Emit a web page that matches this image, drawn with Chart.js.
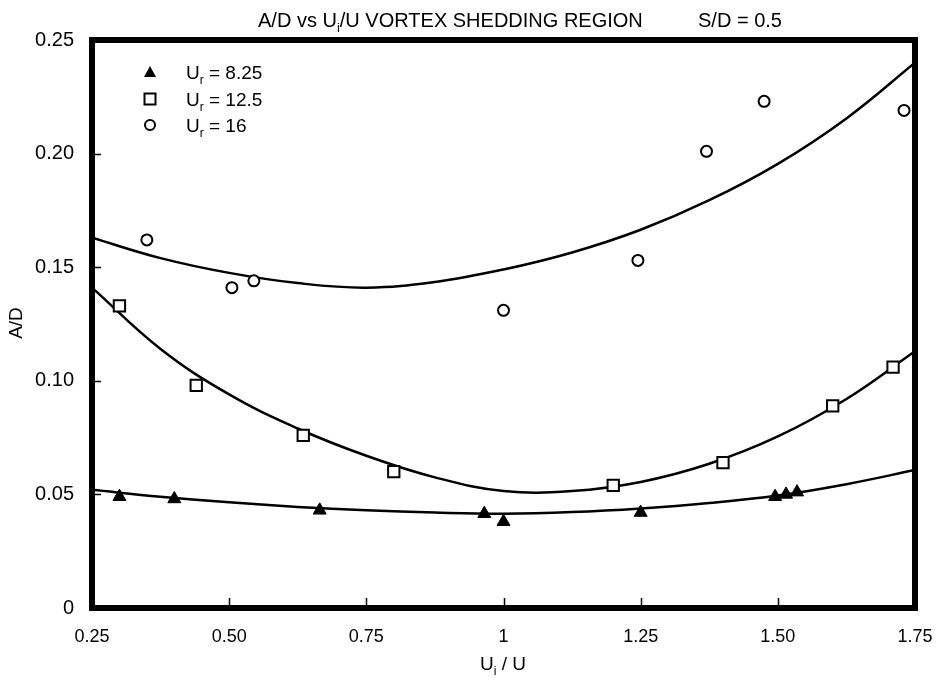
<!DOCTYPE html>
<html>
<head>
<meta charset="utf-8">
<script src="https://cdn.jsdelivr.net/npm/chart.js@4.4.0/dist/chart.umd.min.js"></script>
<style>
  html, body { margin: 0; padding: 0; background: #fff; }
  #wrap { width: 948px; height: 687px; }
</style>
</head>
<body>
<div id="wrap"><canvas id="vortexChart"></canvas></div>
<script>
const triX = [0.30, 0.40, 0.665, 0.965, 1.00, 1.25, 1.495, 1.515, 1.535];
const triY = [0.049, 0.048, 0.043, 0.0415, 0.038, 0.042, 0.049, 0.050, 0.051];

const sqX = [0.30, 0.44, 0.635, 0.80, 1.20, 1.40, 1.60, 1.71];
const sqY = [0.133, 0.098, 0.076, 0.060, 0.054, 0.064, 0.089, 0.106];

const circX = [0.35, 0.505, 0.545, 1.00, 1.245, 1.37, 1.475, 1.73];
const circY = [0.162, 0.141, 0.144, 0.131, 0.153, 0.201, 0.223, 0.219];

// fitted curves
const fitX = [0.25, 0.375, 0.5, 0.625, 0.75, 0.875, 1.0, 1.125, 1.25, 1.375, 1.5, 1.625, 1.75];
const fitTriY = [0.052, 0.049, 0.0465, 0.0445, 0.043, 0.042, 0.0415, 0.0422, 0.0438, 0.0462, 0.0495, 0.0545, 0.0607];
const fitSqY = [0.141, 0.114, 0.094, 0.079, 0.067, 0.0575, 0.0515, 0.0515, 0.0555, 0.0635, 0.0755, 0.092, 0.113];
const fitCircY = [0.163, 0.154, 0.1475, 0.143, 0.141, 0.1435, 0.149, 0.1565, 0.1665, 0.1795, 0.1955, 0.2155, 0.240];

const legendValues = ['8.25', '12.5', '16'];
const xTickLabels = { 0.25: '0.25', 0.5: '0.50', 0.75: '0.75', 1: '1', 1.25: '1.25', 1.5: '1.50', 1.75: '1.75' };
const yTickLabels = { 0: '0', 0.05: '0.05', 0.1: '0.10', 0.15: '0.15', 0.2: '0.20', 0.25: '0.25' };

const FONT = '"Liberation Sans", Arial, Helvetica, sans-serif';

function pairs(xs, ys) {
    return xs.map((v, i) => ({ x: v, y: ys[i] }));
}

function drawMarker(ctx, style, x, y) {
    ctx.save();
    ctx.strokeStyle = '#000';
    ctx.lineWidth = 2;
    ctx.beginPath();
    if (style === 'triangle') {
        ctx.moveTo(x, y - 6);
        ctx.lineTo(x + 6, y + 5);
        ctx.lineTo(x - 6, y + 5);
        ctx.closePath();
        ctx.fillStyle = '#000';
        ctx.fill();
    } else if (style === 'rect') {
        ctx.rect(x - 5.5, y - 5.5, 11, 11);
        ctx.fillStyle = '#fff';
        ctx.fill();
        ctx.stroke();
    } else {
        ctx.arc(x, y, 5, 0, Math.PI * 2);
        ctx.fillStyle = '#fff';
        ctx.fill();
        ctx.stroke();
    }
    ctx.restore();
}

// draws text with one subscript part: [main, sub, rest]
function subText(ctx, x, y, parts, size, align) {
    const big = size + 'px ' + FONT;
    const small = Math.round(size * 0.65) + 'px ' + FONT;
    ctx.font = big;
    const w1 = ctx.measureText(parts[0]).width;
    const w3 = ctx.measureText(parts[2]).width;
    ctx.font = small;
    const w2 = ctx.measureText(parts[1]).width;
    let start = x;
    if (align === 'center') start = x - (w1 + w2 + w3) / 2;
    ctx.textAlign = 'left';
    ctx.textBaseline = 'alphabetic';
    ctx.font = big;
    ctx.fillText(parts[0], start, y);
    ctx.font = small;
    ctx.fillText(parts[1], start + w1, y + size * 0.25);
    ctx.font = big;
    ctx.fillText(parts[2], start + w1 + w2, y);
}

const decorations = {
    id: 'decorations',
    afterDraw(chart) {
        const { ctx, chartArea: a, scales } = chart;
        ctx.save();
        ctx.fillStyle = '#000';
        ctx.strokeStyle = '#000';

        // heavy frame
        ctx.lineWidth = 6;
        ctx.strokeRect(a.left, a.top, a.right - a.left, a.bottom - a.top);

        // inward tick marks
        ctx.lineWidth = 1.5;
        scales.x.ticks.forEach(t => {
            if (t.value <= 0.25 || t.value >= 1.75) return;
            const px = Math.round(scales.x.getPixelForValue(t.value)) + 0.5;
            ctx.beginPath();
            ctx.moveTo(px, a.bottom);
            ctx.lineTo(px, a.bottom - 10);
            ctx.stroke();
        });
        scales.y.ticks.forEach(t => {
            if (t.value <= 0 || t.value >= 0.25) return;
            const py = Math.round(scales.y.getPixelForValue(t.value)) + 0.5;
            ctx.beginPath();
            ctx.moveTo(a.left, py);
            ctx.lineTo(a.left + 9, py);
            ctx.stroke();
        });

        // title
        subText(ctx, 258, 27, ['A/D vs U', 'i', '/U VORTEX SHEDDING REGION'], 20, 'left');
        ctx.font = '20px ' + FONT;
        ctx.textAlign = 'left';
        ctx.fillText('S/D = 0.5', 698, 27);

        // legend
        const styles = ['triangle', 'rect', 'circle'];
        const rowsY = [72, 99, 125];
        styles.forEach((s, i) => {
            drawMarker(ctx, s, 150, rowsY[i]);
            subText(ctx, 186, rowsY[i] + 7, ['U', 'r', ' = ' + legendValues[i]], 19, 'left');
        });

        // axis titles
        subText(ctx, 503, 670, ['U', 'i', ' / U'], 19, 'center');
        ctx.save();
        ctx.translate(22, 323);
        ctx.rotate(-Math.PI / 2);
        ctx.font = '19px ' + FONT;
        ctx.textAlign = 'center';
        ctx.textBaseline = 'alphabetic';
        ctx.fillText('A/D', 0, 0);
        ctx.restore();

        ctx.restore();
    }
};

const ctx = document.getElementById('vortexChart').getContext('2d');
const vortexChart = new Chart(ctx, {
    type: 'scatter',
    data: {
        datasets: [
            {
                label: 'Ur = 8.25',
                data: pairs(triX, triY),
                pointStyle: 'triangle',
                pointRadius: 7.5,
                backgroundColor: '#000',
                borderColor: '#000',
                borderWidth: 1
            },
            {
                label: 'Ur = 12.5',
                data: pairs(sqX, sqY),
                pointStyle: 'rect',
                pointRadius: 8,
                backgroundColor: '#fff',
                borderColor: '#000',
                borderWidth: 2
            },
            {
                label: 'Ur = 16',
                data: pairs(circX, circY),
                pointStyle: 'circle',
                pointRadius: 5.5,
                backgroundColor: '#fff',
                borderColor: '#000',
                borderWidth: 2
            },
            {
                label: 'fit 8.25',
                data: pairs(fitX, fitTriY),
                showLine: true,
                pointRadius: 0,
                borderColor: '#000',
                borderWidth: 2.5,
                tension: 0.4
            },
            {
                label: 'fit 12.5',
                data: pairs(fitX, fitSqY),
                showLine: true,
                pointRadius: 0,
                borderColor: '#000',
                borderWidth: 2.5,
                tension: 0.4
            },
            {
                label: 'fit 16',
                data: pairs(fitX, fitCircY),
                showLine: true,
                pointRadius: 0,
                borderColor: '#000',
                borderWidth: 2.5,
                tension: 0.4
            }
        ]
    },
    options: {
        responsive: true,
        maintainAspectRatio: false,
        animation: false,
        devicePixelRatio: 1,
        layout: { padding: { top: 40, right: 33, left: 0, bottom: 0 } },
        plugins: {
            legend: { display: false },
            tooltip: { enabled: false }
        },
        scales: {
            x: {
                type: 'linear',
                min: 0.25,
                max: 1.75,
                afterFit: s => { s.height = 79; },
                grid: { display: false },
                border: { display: false },
                ticks: {
                    stepSize: 0.25,
                    padding: 10,
                    color: '#000',
                    font: { family: FONT, size: 18 },
                    maxRotation: 0,
                    callback: v => xTickLabels[v] ?? ''
                }
            },
            y: {
                type: 'linear',
                min: 0,
                max: 0.25,
                afterFit: s => { s.width = 92; },
                grid: { display: false },
                border: { display: false },
                ticks: {
                    stepSize: 0.05,
                    padding: 10,
                    color: '#000',
                    font: { family: FONT, size: 20 },
                    callback: v => yTickLabels[Math.round(v * 100) / 100] ?? ''
                }
            }
        }
    },
    plugins: [decorations]
});
</script>
</body>
</html>
